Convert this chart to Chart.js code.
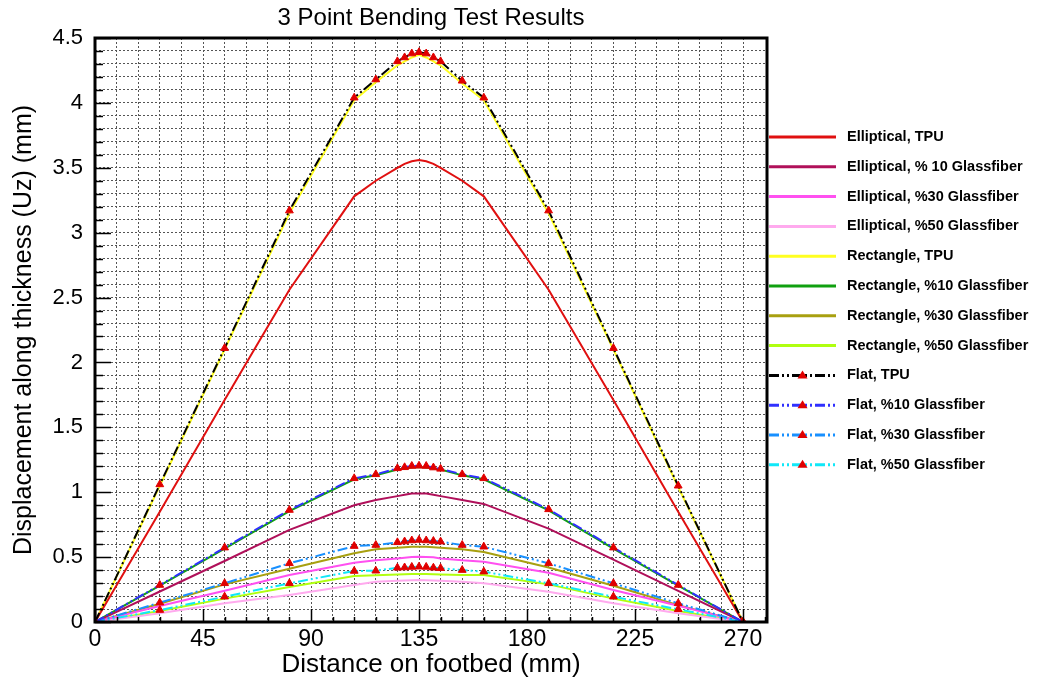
<!DOCTYPE html>
<html>
<head>
<meta charset="utf-8">
<script src="https://cdn.jsdelivr.net/npm/chart.js@4.4.1/dist/chart.umd.min.js"></script>
<style>
  html, body { margin: 0; padding: 0; background: #fff; }
  #wrap { width: 1037px; height: 681px; }
</style>
</head>
<body>
<div id="wrap"><canvas id="bending-chart" width="1037" height="681"></canvas></div>
<script>
// positions along the footbed (mm)
const distance = [0, 27, 54, 81, 108, 117, 126, 129, 132, 135, 138, 141, 144, 153, 162, 189, 216, 243, 270];

// displacement Uz (mm)
const ellipticalTPU = [0, 0.85, 1.71, 2.56, 3.28, 3.40, 3.50, 3.53, 3.55, 3.56, 3.55, 3.53, 3.50, 3.40, 3.28, 2.56, 1.71, 0.85, 0];
const elliptical10 = [0, 0.235, 0.47, 0.71, 0.90, 0.94, 0.97, 0.98, 0.99, 0.99, 0.99, 0.98, 0.97, 0.94, 0.91, 0.72, 0.48, 0.24, 0];
const elliptical30 = [0, 0.123, 0.241, 0.362, 0.457, 0.475, 0.49, 0.495, 0.5, 0.503, 0.5, 0.498, 0.49, 0.475, 0.465, 0.38, 0.246, 0.125, 0];
const elliptical50 = [0, 0.067, 0.144, 0.208, 0.285, 0.31, 0.318, 0.32, 0.322, 0.324, 0.322, 0.32, 0.318, 0.31, 0.298, 0.233, 0.144, 0.067, 0];
const rectangleTPU = [0, 1.05, 2.10, 3.15, 4.02, 4.16, 4.29, 4.32, 4.35, 4.37, 4.35, 4.32, 4.29, 4.15, 4.02, 3.15, 2.10, 1.04, 0];
const rectangle10 = [0, 0.28, 0.565, 0.855, 1.10, 1.13, 1.175, 1.183, 1.19, 1.195, 1.19, 1.183, 1.175, 1.13, 1.10, 0.86, 0.565, 0.28, 0];
const rectangle30 = [0, 0.14, 0.29, 0.41, 0.53, 0.56, 0.572, 0.576, 0.579, 0.58, 0.579, 0.576, 0.572, 0.56, 0.54, 0.42, 0.28, 0.13, 0];
const rectangle50 = [0, 0.085, 0.18, 0.27, 0.354, 0.36, 0.366, 0.368, 0.37, 0.37, 0.37, 0.368, 0.366, 0.362, 0.362, 0.29, 0.18, 0.085, 0];
const flatTPU = [0, 1.06, 2.11, 3.17, 4.04, 4.18, 4.32, 4.35, 4.38, 4.39, 4.38, 4.35, 4.32, 4.17, 4.04, 3.17, 2.11, 1.05, 0];
const flat10 = [0, 0.285, 0.573, 0.863, 1.107, 1.138, 1.184, 1.192, 1.202, 1.204, 1.202, 1.19, 1.18, 1.138, 1.107, 0.868, 0.573, 0.285, 0];
const flat30 = [0, 0.149, 0.298, 0.452, 0.585, 0.593, 0.614, 0.62, 0.628, 0.632, 0.628, 0.624, 0.619, 0.593, 0.58, 0.452, 0.298, 0.144, 0];
const flat50 = [0, 0.092, 0.195, 0.298, 0.393, 0.395, 0.418, 0.42, 0.424, 0.426, 0.424, 0.418, 0.415, 0.40, 0.388, 0.298, 0.195, 0.098, 0];

const xTickLabels = [0, 45, 90, 135, 180, 225, 270];
const yTickLabels = [0, 0.5, 1, 1.5, 2, 2.5, 3, 3.5, 4, 4.5];

const FONT = '"Liberation Sans", Arial, sans-serif';
const FLAT_DASH = [10, 3, 2, 3, 2, 3];

function toPoints(values) {
    return values.map((v, i) => ({ x: distance[i], y: v }));
}

function solidSeries(label, values, color) {
    return {
        label: label,
        data: toPoints(values),
        borderColor: color,
        backgroundColor: color,
        borderWidth: 2,
        pointRadius: 0,
        order: 2
    };
}

function flatSeries(label, values, color) {
    return {
        label: label,
        data: toPoints(values),
        borderColor: color,
        backgroundColor: color,
        borderWidth: 2,
        borderDash: FLAT_DASH,
        pointStyle: 'triangle',
        pointRadius: 4.5,
        pointBackgroundColor: '#e00000',
        pointBorderColor: '#e00000',
        pointBorderWidth: 1,
        order: 1
    };
}

const datasets = [
    solidSeries('Elliptical, TPU', ellipticalTPU, '#e01010'),
    solidSeries('Elliptical, % 10 Glassfiber', elliptical10, '#b0105a'),
    solidSeries('Elliptical, %30 Glassfiber', elliptical30, '#ff50f0'),
    solidSeries('Elliptical, %50 Glassfiber', elliptical50, '#ffaaee'),
    solidSeries('Rectangle, TPU', rectangleTPU, '#ffff20'),
    solidSeries('Rectangle, %10 Glassfiber', rectangle10, '#10a010'),
    solidSeries('Rectangle, %30 Glassfiber', rectangle30, '#a8a010'),
    solidSeries('Rectangle, %50 Glassfiber', rectangle50, '#b0ff10'),
    flatSeries('Flat, TPU', flatTPU, '#000000'),
    flatSeries('Flat, %10 Glassfiber', flat10, '#3030ff'),
    flatSeries('Flat, %30 Glassfiber', flat30, '#1890ff'),
    flatSeries('Flat, %50 Glassfiber', flat50, '#10e8f8')
];

function isMultiple(v, step) {
    const q = v / step;
    return Math.abs(q - Math.round(q)) < 1e-6;
}

// title, frame, inward tick marks and the legend on the right
const framePlugin = {
    id: 'frame',
    afterDraw(chart) {
        const ctx = chart.ctx;
        const area = chart.chartArea;
        const xs = chart.scales.x;
        const ys = chart.scales.y;
        ctx.save();

        ctx.fillStyle = '#000';
        ctx.font = '24px ' + FONT;
        ctx.textAlign = 'center';
        ctx.textBaseline = 'middle';
        ctx.fillText('3 Point Bending Test Results', (area.left + area.right) / 2, 18);

        ctx.strokeStyle = '#000';
        ctx.lineWidth = 1.5;
        for (let v = 0; v <= 280; v += 9) {
            const px = Math.round(xs.getPixelForValue(v)) + 0.5;
            const len = xTickLabels.includes(v) ? 13 : 5;
            ctx.beginPath();
            ctx.moveTo(px, area.bottom);
            ctx.lineTo(px, area.bottom - len);
            ctx.stroke();
        }
        for (let i = 0; i <= 45; i++) {
            const v = i / 10;
            const py = Math.round(ys.getPixelForValue(v)) + 0.5;
            const len = isMultiple(v, 0.5) ? 16 : 8;
            ctx.beginPath();
            ctx.moveTo(area.left, py);
            ctx.lineTo(area.left + len, py);
            ctx.stroke();
        }
        ctx.lineWidth = 3;
        ctx.strokeRect(area.left, area.top, area.right - area.left, area.bottom - area.top);

        // legend
        const x0 = area.right + 2;
        const x1 = x0 + 67;
        let y = 137;
        ctx.font = 'bold 14.5px ' + FONT;
        ctx.textBaseline = 'middle';
        ctx.textAlign = 'left';
        chart.data.datasets.forEach(ds => {
            ctx.lineWidth = 3;
            ctx.strokeStyle = ds.borderColor;
            ctx.setLineDash(ds.borderDash || []);
            ctx.beginPath();
            ctx.moveTo(x0, y);
            ctx.lineTo(x1, y);
            ctx.stroke();
            ctx.setLineDash([]);
            if (ds.pointRadius > 0) {
                const mx = (x0 + x1) / 2;
                ctx.fillStyle = ds.pointBackgroundColor;
                ctx.beginPath();
                ctx.moveTo(mx, y - 5);
                ctx.lineTo(mx + 5, y + 3);
                ctx.lineTo(mx - 5, y + 3);
                ctx.closePath();
                ctx.fill();
            }
            ctx.fillStyle = '#000';
            ctx.fillText(ds.label, x1 + 11, y);
            y += 29.8;
        });
        ctx.restore();
    }
};

new Chart(document.getElementById('bending-chart'), {
    type: 'line',
    data: { datasets: datasets },
    plugins: [framePlugin],
    options: {
        responsive: false,
        animation: false,
        layout: { padding: { right: 270, left: 0, bottom: 0, top: 38 } },
        plugins: {
            legend: { display: false },
            tooltip: { enabled: false },
            title: { display: false }
        },
        scales: {
            x: {
                type: 'linear',
                min: 0,
                max: 280,
                afterFit(scale) { scale.height = 59; },
                grid: { color: '#555', lineWidth: 1, drawTicks: false },
                border: { display: false, dash: [2, 2] },
                ticks: {
                    stepSize: 9,
                    autoSkip: false,
                    maxRotation: 0,
                    maxTicksLimit: 1000,
                    padding: 4,
                    color: '#000',
                    font: { family: FONT, size: 23 },
                    callback: v => xTickLabels.includes(v) ? String(v) : ''
                },
                title: {
                    display: true,
                    text: 'Distance on footbed (mm)',
                    color: '#000',
                    font: { family: FONT, size: 26 },
                    padding: { top: 0, bottom: 1 }
                }
            },
            y: {
                type: 'linear',
                min: 0,
                max: 4.5,
                afterFit(scale) { scale.width = 95; },
                grid: { color: '#555', lineWidth: 1, drawTicks: false },
                border: { display: false, dash: [2, 2] },
                ticks: {
                    stepSize: 0.1,
                    autoSkip: false,
                    maxTicksLimit: 1000,
                    padding: 12,
                    color: '#000',
                    font: { family: FONT, size: 22 },
                    callback: v => {
                        const r = Math.round(v * 10) / 10;
                        return yTickLabels.some(t => Math.abs(t - r) < 1e-6) ? String(r) : '';
                    }
                },
                title: {
                    display: true,
                    text: 'Displacement along thickness (Uz) (mm)',
                    color: '#000',
                    font: { family: FONT, size: 25 },
                    padding: { top: 9, bottom: 0 }
                }
            }
        }
    }
});
</script>
</body>
</html>
